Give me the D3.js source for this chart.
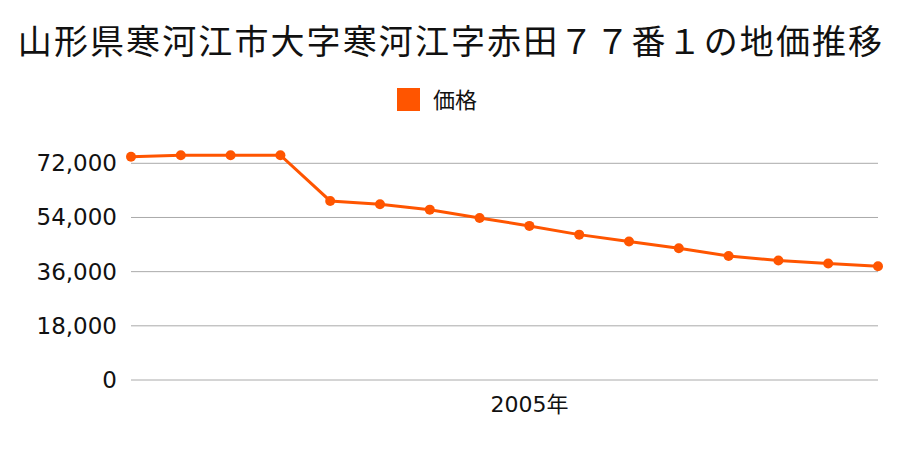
<!DOCTYPE html>
<html>
<head>
<meta charset="utf-8">
<script src="https://cdn.jsdelivr.net/npm/d3@7"></script>
<style>
  body { margin: 0; background: #fff; }
  text { fill: #111; }
  .cjk { font-family: "Noto Sans CJK JP", sans-serif; }
  .num { font-family: "DejaVu Sans", "Noto Sans CJK JP", sans-serif; }
</style>
</head>
<body>
<div id="chart"></div>
<script>
const width = 900;
const height = 450;

const title = "山形県寒河江市大字寒河江字赤田７７番１の地価推移";
const seriesName = "価格";
const years = [1997, 1998, 1999, 2000, 2001, 2002, 2003, 2004, 2005, 2006, 2007, 2008, 2009, 2010, 2011, 2012];
const prices = [74200, 74700, 74700, 74700, 59500, 58400, 56600, 53800, 51200, 48300, 46000, 43800, 41200, 39700, 38700, 37800];
const yTicks = [0, 18000, 36000, 54000, 72000];
const xLabelYears = [2005];

const color = "#ff5500";
const margin = { left: 131, right: 22, top: 163.3, bottom: 70 };

const svg = d3.select("#chart").append("svg")
    .attr("width", width)
    .attr("height", height);

const x = d3.scalePoint()
    .domain(years)
    .range([margin.left, width - margin.right]);

const y = d3.scaleLinear()
    .domain([0, 72000])
    .range([height - margin.bottom, margin.top]);

// Title
svg.append("text")
    .attr("class", "cjk")
    .attr("x", width / 2 + 1)
    .attr("y", 54)
    .attr("text-anchor", "middle")
    .style("font-size", "34px")
    .style("letter-spacing", "2.1px")
    .text(title);

// Legend
svg.append("rect")
    .attr("x", 397).attr("y", 88)
    .attr("width", 23).attr("height", 23)
    .attr("fill", color);
svg.append("text")
    .attr("class", "cjk")
    .attr("x", 433).attr("y", 108)
    .style("font-size", "22px")
    .text(seriesName);

// Grid lines
svg.append("g")
    .selectAll("line")
    .data(yTicks)
    .join("line")
    .attr("x1", margin.left)
    .attr("x2", width - margin.right)
    .attr("y1", d => y(d))
    .attr("y2", d => y(d))
    .attr("stroke", "#aaa")
    .attr("stroke-width", 1);

// Y tick labels
svg.append("g")
    .selectAll("text")
    .data(yTicks)
    .join("text")
    .attr("class", "num")
    .attr("x", 117)
    .attr("y", d => y(d) + 8)
    .attr("text-anchor", "end")
    .style("font-size", "23px")
    .text(d => d3.format(",")(d));

// X labels
svg.append("g")
    .selectAll("text")
    .data(xLabelYears)
    .join("text")
    .attr("class", "num")
    .attr("x", d => x(d))
    .attr("y", 412)
    .attr("text-anchor", "middle")
    .style("font-size", "22px")
    .text(d => d + "年");

// Line
const line = d3.line()
    .x((d, i) => x(years[i]))
    .y(d => y(d));

svg.append("path")
    .datum(prices)
    .attr("fill", "none")
    .attr("stroke", color)
    .attr("stroke-width", 3)
    .attr("d", line);

svg.append("g")
    .selectAll("circle")
    .data(prices)
    .join("circle")
    .attr("cx", (d, i) => x(years[i]))
    .attr("cy", d => y(d))
    .attr("r", 5)
    .attr("fill", color);
</script>
</body>
</html>
